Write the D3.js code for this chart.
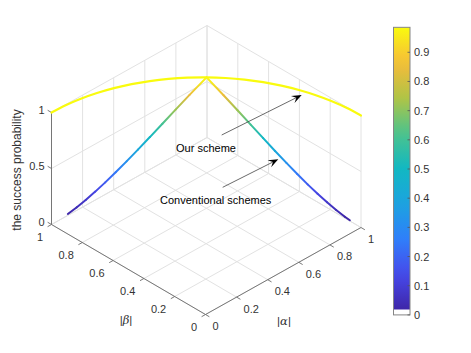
<!DOCTYPE html>
<html><head><meta charset="utf-8">
<script src="https://cdn.jsdelivr.net/npm/d3@7"></script>
<style>body{margin:0;background:#fff}svg{display:block}text{font-family:"Liberation Sans",Arial,sans-serif}</style>
</head><body><svg id="c" width="471" height="353"></svg>
<script>
// ---- data ----
const axisTicks = [0, 0.2, 0.4, 0.6, 0.8, 1];
const axisTickLabels = ["0", "0.2", "0.4", "0.6", "0.8", "1"];
const zTicks = [0, 0.5, 1];
const zTickLabels = ["0", "0.5", "1"];
const cbarTicks = [0, 0.1, 0.2, 0.3, 0.4, 0.5, 0.6, 0.7, 0.8, 0.9];
const cbarTickLabels = ["0", "0.1", "0.2", "0.3", "0.4", "0.5", "0.6", "0.7", "0.8", "0.9"];
const cbarLimits = [0, 0.9856];
const colorDataLimits = [0.0185, 0.9856];

// "Our scheme": |alpha|^2+|beta|^2 = 1 at success probability 1
const ourAlpha = [1, 0.9962, 0.9848, 0.9659, 0.9397, 0.9063, 0.8660, 0.8192, 0.7660, 0.7071, 0.6428, 0.5736, 0.5, 0.4226, 0.3420, 0.2588, 0.1736, 0.0872, 0];
const ourBeta  = [0, 0.0872, 0.1736, 0.2588, 0.3420, 0.4226, 0.5, 0.5736, 0.6428, 0.7071, 0.7660, 0.8192, 0.8660, 0.9063, 0.9397, 0.9659, 0.9848, 0.9962, 1];
const ourZ     = [1, 1, 1, 1, 1, 1, 1, 1, 1, 1, 1, 1, 1, 1, 1, 1, 1, 1, 1];

// "Conventional schemes"
const convAlpha = [0.10, 0.15, 0.20, 0.25, 0.30, 0.35, 0.40, 0.45, 0.50, 0.55, 0.60, 0.65, 0.7071, 0.7599, 0.8000, 0.8352, 0.8660, 0.8930, 0.9165, 0.9367, 0.9539, 0.9682, 0.9798, 0.9887, 0.9950, 0.9975];
const convBeta  = [0.9950, 0.9887, 0.9798, 0.9682, 0.9539, 0.9367, 0.9165, 0.8930, 0.8660, 0.8352, 0.8000, 0.7599, 0.7071, 0.65, 0.60, 0.55, 0.50, 0.45, 0.40, 0.35, 0.30, 0.25, 0.20, 0.15, 0.10, 0.07];
const convZ     = [0.02, 0.045, 0.08, 0.125, 0.18, 0.245, 0.32, 0.405, 0.50, 0.605, 0.72, 0.845, 1.0, 0.845, 0.72, 0.605, 0.50, 0.405, 0.32, 0.245, 0.18, 0.125, 0.08, 0.045, 0.02, 0.01];

const parulaStops = [0, 0.125, 0.25, 0.375, 0.5, 0.625, 0.75, 0.875, 1];
const parulaColors = ["#3e26a8", "#4749eb", "#2f7ffa", "#1ca3e0", "#12b8c2", "#4cc38c", "#b0c446", "#f6bb3a", "#f9fb0e"];

const annoOur = {text: "Our scheme", from: [221.7, 135], to: [301.7, 95], label: [176, 148]};
const annoConv = {text: "Conventional schemes", from: [222.7, 187.3], to: [278.3, 159.3], label: [160, 200]};

// ---- projection via scales ----
const svg = d3.select("#c");
const origin = [205.5, 314.5];
const sxA = d3.scaleLinear([0, 1], [0, 155.5]), syA = d3.scaleLinear([0, 1], [0, -87]);
const sxB = d3.scaleLinear([0, 1], [0, -154]), syB = d3.scaleLinear([0, 1], [0, -90]);
const sZ = d3.scaleLinear([0, 1], [0, -112]);
const P = (a, b, z) => [origin[0] + sxA(a) + sxB(b), origin[1] + syA(a) + syB(b) + sZ(z)];

const parula = d3.scaleLinear().domain(parulaStops).range(parulaColors).interpolate(d3.interpolateRgb).clamp(true);
const cnorm = d3.scaleLinear().domain(colorDataLimits).range([0, 1]).clamp(true);
const colorOf = v => parula(cnorm(v));

const ink = "#333333";
const gridC = "#e2e2e2";
const gGrid = svg.append("g").attr("stroke", gridC).attr("stroke-width", 1).attr("fill", "none");
const seg = (g, p, q) => g.append("line").attr("x1", p[0]).attr("y1", p[1]).attr("x2", q[0]).attr("y2", q[1]);

// floor grid
axisTicks.forEach(t => {
  seg(gGrid, P(t, 0, 0), P(t, 1, 0));
  seg(gGrid, P(0, t, 0), P(1, t, 0));
});
// back wall beta = 1
axisTicks.forEach(t => seg(gGrid, P(t, 1, 0), P(t, 1, 1)));
zTicks.forEach(z => seg(gGrid, P(0, 1, z), P(1, 1, z)));
// back wall alpha = 1
axisTicks.forEach(t => seg(gGrid, P(1, t, 0), P(1, t, 1)));
zTicks.forEach(z => seg(gGrid, P(1, 0, z), P(1, 1, z)));

// axes
const gAx = svg.append("g").attr("stroke", "#6a6a6a").attr("stroke-width", 0.9).attr("fill", "none");
seg(gAx, P(0, 0, 0), P(1, 0, 0));
seg(gAx, P(0, 0, 0), P(0, 1, 0));
seg(gAx, P(0, 1, 0), P(0, 1, 1));
const tl = 0.025;
axisTicks.forEach(t => {
  seg(gAx, P(t, 0, 0), P(t, -tl, 0));   // alpha ticks (outward, -beta)
  seg(gAx, P(0, t, 0), P(-tl, t, 0));   // beta ticks (outward, -alpha)
});
zTicks.forEach(z => seg(gAx, P(0, 1, z), P(0, 1 + tl, z)));

const fs = 11;
const gT = svg.append("g").attr("fill", ink).attr("font-size", fs);
axisTicks.forEach((t, i) => {
  const pa = P(t, 0, 0);
  gT.append("text").attr("x", pa[0] + 7).attr("y", pa[1] + 11.5).attr("dominant-baseline", "central").text(axisTickLabels[i]);
  const pb = P(0, t, 0);
  gT.append("text").attr("x", pb[0] - 8.5).attr("y", pb[1] + 12.5).attr("text-anchor", "end").attr("dominant-baseline", "central").text(axisTickLabels[i]);
});
zTicks.forEach((z, i) => {
  const p = P(0, 1, z);
  gT.append("text").attr("x", p[0] - 7).attr("y", p[1] - 2.5).attr("text-anchor", "end").attr("dominant-baseline", "central").text(zTickLabels[i]);
});

// axis labels
const aLab = gT.append("text").attr("x", 284).attr("y", 321).attr("text-anchor", "middle").attr("dominant-baseline", "central").attr("font-size", 11.5);
aLab.append("tspan").text("|");
aLab.append("tspan").attr("font-style", "italic").attr("font-family", "DejaVu Serif, serif").text("α");
aLab.append("tspan").text("|");
const bLab = gT.append("text").attr("x", 126).attr("y", 320).attr("text-anchor", "middle").attr("dominant-baseline", "central").attr("font-size", 11.5);
bLab.append("tspan").text("|");
bLab.append("tspan").attr("font-style", "italic").attr("font-family", "DejaVu Serif, serif").text("β");
bLab.append("tspan").text("|");
gT.append("text").attr("transform", "translate(17,170) rotate(-90)").attr("text-anchor", "middle").attr("dominant-baseline", "central").attr("font-size", 12).text("the success probability");

// curves
const defs = svg.append("defs");
const ourPts = ourAlpha.map((a, i) => P(a, ourBeta[i], ourZ[i]));
svg.append("path").attr("d", d3.line().curve(d3.curveCatmullRom)(ourPts))
  .attr("fill", "none").attr("stroke", colorOf(d3.max(ourZ))).attr("stroke-width", 2.2).attr("stroke-linecap", "round");

const convPts = convAlpha.map((a, i) => P(a, convBeta[i], convZ[i]));
const gConv = svg.append("g").attr("fill", "none").attr("stroke-width", 2).attr("stroke-linecap", "round");
for (let i = 0; i < convPts.length - 1; i++) {
  const p = convPts[i], q = convPts[i + 1];
  const id = "cg" + i;
  const lg = defs.append("linearGradient").attr("id", id).attr("gradientUnits", "userSpaceOnUse")
    .attr("x1", p[0]).attr("y1", p[1]).attr("x2", q[0]).attr("y2", q[1]);
  lg.append("stop").attr("offset", 0).attr("stop-color", colorOf(convZ[i]));
  lg.append("stop").attr("offset", 1).attr("stop-color", colorOf(convZ[i + 1]));
  gConv.append("line").attr("x1", p[0]).attr("y1", p[1]).attr("x2", q[0]).attr("y2", q[1]).attr("stroke", `url(#${id})`);
}

// annotations
function arrow(a) {
  const [x1, y1] = a.from, [x2, y2] = a.to;
  const L = Math.hypot(x2 - x1, y2 - y1), ux = (x2 - x1) / L, uy = (y2 - y1) / L, nx = -uy, ny = ux;
  const hl = 10, hw = 4;
  svg.append("line").attr("x1", x1).attr("y1", y1).attr("x2", x2 - ux * 6).attr("y2", y2 - uy * 6).attr("stroke", "#444").attr("stroke-width", 0.8);
  const pts = [[x2, y2], [x2 - ux * hl + nx * hw, y2 - uy * hl + ny * hw], [x2 - ux * hl * 0.6, y2 - uy * hl * 0.6], [x2 - ux * hl - nx * hw, y2 - uy * hl - ny * hw]];
  svg.append("polygon").attr("points", pts.map(p => p.join(",")).join(" ")).attr("fill", "#000");
  svg.append("text").attr("x", a.label[0]).attr("y", a.label[1]).attr("dominant-baseline", "central").attr("font-size", 11).attr("fill", "#000").text(a.text);
}
arrow(annoOur);
arrow(annoConv);

// colorbar
const cbX = 393.5, cbW = 16.5;
const cbY = d3.scaleLinear().domain([0, 0.1, 0.9]).range([314.9, 285.7, 52.3]);
const cg = defs.append("linearGradient").attr("id", "cbg").attr("x1", 0).attr("y1", 1).attr("x2", 0).attr("y2", 0);
d3.range(0, 1.0001, 0.05).forEach(f => cg.append("stop").attr("offset", f).attr("stop-color", parula(f)));
svg.append("rect").attr("x", cbX).attr("y", cbY(colorDataLimits[1])).attr("width", cbW)
  .attr("height", cbY(colorDataLimits[0]) - cbY(colorDataLimits[1])).attr("fill", "url(#cbg)");
svg.append("rect").attr("x", cbX).attr("y", cbY(cbarLimits[1])).attr("width", cbW)
  .attr("height", cbY(cbarLimits[0]) - cbY(cbarLimits[1])).attr("fill", "none").attr("stroke", "#858585").attr("stroke-width", 1);
const gCb = svg.append("g");
cbarTicks.forEach((t, i) => {
  const y = cbY(t);
  gCb.append("line").attr("x1", cbX + cbW - 2.5).attr("x2", cbX + cbW).attr("y1", y).attr("y2", y).attr("stroke", "#555").attr("stroke-width", 0.8);
  gCb.append("text").attr("x", 414).attr("y", y).attr("dominant-baseline", "central").attr("font-size", 11).attr("fill", ink).text(cbarTickLabels[i]);
});
</script></body></html>
